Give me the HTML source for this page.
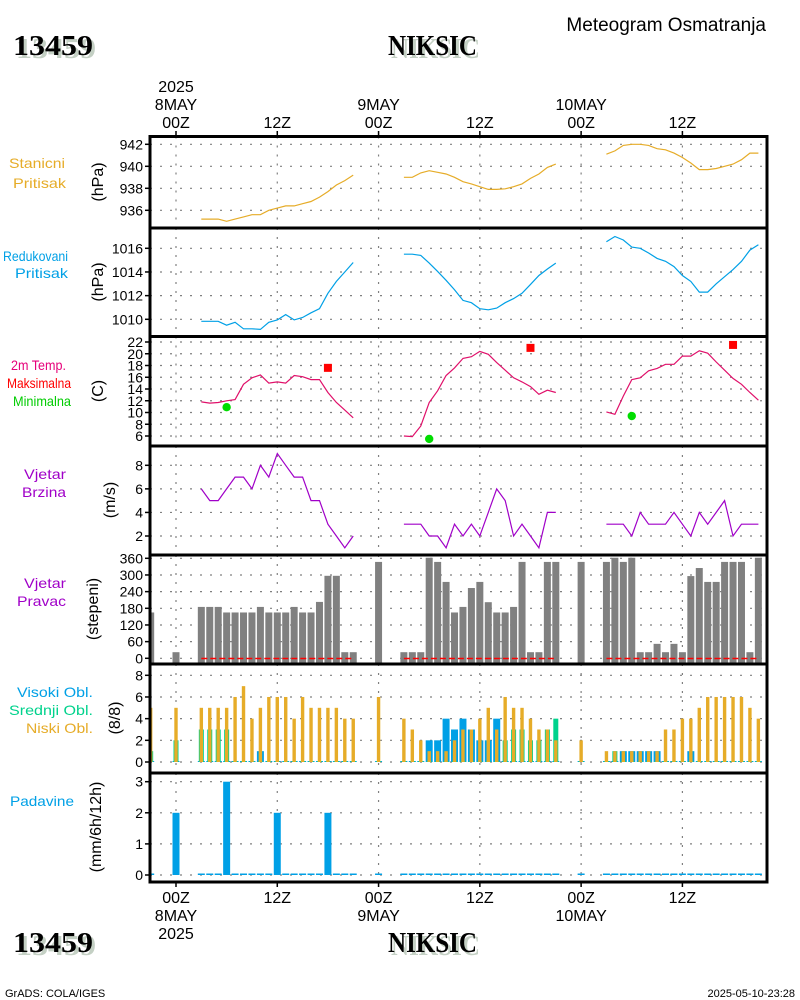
<!DOCTYPE html>
<html><head><meta charset="utf-8"><title>Meteogram NIKSIC</title>
<style>
html,body{margin:0;padding:0;background:#fff;}
svg{display:block;font-family:"Liberation Sans","DejaVu Sans",sans-serif;}
.tk{font-size:14px;fill:#000;}
.ax{font-size:16px;fill:#000;}
.lbl{font-size:14px;}
.hdr{font-family:"Liberation Serif",serif;font-weight:bold;font-size:29px;}
</style></head>
<body>
<svg id="chart" width="800" height="1000" viewBox="0 0 800 1000" xmlns="http://www.w3.org/2000/svg">
  <g>
    <text x="16" y="58" class="hdr" fill="#c4d0c4" textLength="80" lengthAdjust="spacingAndGlyphs">13459</text>
    <text x="13" y="55" class="hdr" fill="#000" textLength="80" lengthAdjust="spacingAndGlyphs">13459</text>
    <text x="391" y="58" class="hdr" fill="#c4d0c4" textLength="89" lengthAdjust="spacingAndGlyphs">NIKSIC</text>
    <text x="388" y="55" class="hdr" fill="#000" textLength="89" lengthAdjust="spacingAndGlyphs">NIKSIC</text>
    <text x="766" y="31" font-size="19" text-anchor="end">Meteogram Osmatranja</text>
  </g>
  <g>
    <text x="16" y="955" class="hdr" fill="#c4d0c4" textLength="80" lengthAdjust="spacingAndGlyphs">13459</text>
    <text x="13" y="952" class="hdr" fill="#000" textLength="80" lengthAdjust="spacingAndGlyphs">13459</text>
    <text x="391" y="955" class="hdr" fill="#c4d0c4" textLength="89" lengthAdjust="spacingAndGlyphs">NIKSIC</text>
    <text x="388" y="952" class="hdr" fill="#000" textLength="89" lengthAdjust="spacingAndGlyphs">NIKSIC</text>
    <text x="5" y="997" font-size="11">GrADS: COLA/IGES</text>
    <text x="795" y="997" font-size="11" text-anchor="end">2025-05-10-23:28</text>
  </g>
  <g>
    <text x="9" y="168" class="lbl" fill="#e6ac28" textLength="56" lengthAdjust="spacingAndGlyphs">Stanicni</text>
    <text x="13" y="188" class="lbl" fill="#e6ac28" textLength="53" lengthAdjust="spacingAndGlyphs">Pritisak</text>
    <text x="3" y="261" class="lbl" fill="#00a0e6" textLength="65" lengthAdjust="spacingAndGlyphs">Redukovani</text>
    <text x="15" y="278" class="lbl" fill="#00a0e6" textLength="53" lengthAdjust="spacingAndGlyphs">Pritisak</text>
    <text x="11" y="370" class="lbl" fill="#e6007a" textLength="55" lengthAdjust="spacingAndGlyphs">2m Temp.</text>
    <text x="7" y="388" class="lbl" fill="#ff0000" textLength="64" lengthAdjust="spacingAndGlyphs">Maksimalna</text>
    <text x="13" y="406" class="lbl" fill="#00cc00" textLength="58" lengthAdjust="spacingAndGlyphs">Minimalna</text>
    <text x="24" y="479" class="lbl" fill="#a000c8" textLength="42" lengthAdjust="spacingAndGlyphs">Vjetar</text>
    <text x="22" y="497" class="lbl" fill="#a000c8" textLength="44" lengthAdjust="spacingAndGlyphs">Brzina</text>
    <text x="24" y="588" class="lbl" fill="#a000c8" textLength="42" lengthAdjust="spacingAndGlyphs">Vjetar</text>
    <text x="17" y="606" class="lbl" fill="#a000c8" textLength="49" lengthAdjust="spacingAndGlyphs">Pravac</text>
    <text x="17" y="697" class="lbl" fill="#00a0e6" textLength="76" lengthAdjust="spacingAndGlyphs">Visoki Obl.</text>
    <text x="9" y="715" class="lbl" fill="#00d28c" textLength="84" lengthAdjust="spacingAndGlyphs">Srednji Obl.</text>
    <text x="26" y="733" class="lbl" fill="#e6ac28" textLength="67" lengthAdjust="spacingAndGlyphs">Niski Obl.</text>
    <text x="10" y="806" class="lbl" fill="#00a0e6" textLength="64" lengthAdjust="spacingAndGlyphs">Padavine</text>
    <text transform="translate(103,182) rotate(-90)" class="ax" text-anchor="middle">(hPa)</text>
    <text transform="translate(103,282) rotate(-90)" class="ax" text-anchor="middle">(hPa)</text>
    <text transform="translate(103,391) rotate(-90)" class="ax" text-anchor="middle">(C)</text>
    <text transform="translate(115,500) rotate(-90)" class="ax" text-anchor="middle">(m/s)</text>
    <text transform="translate(98,609) rotate(-90)" class="ax" text-anchor="middle">(stepeni)</text>
    <text transform="translate(120,718) rotate(-90)" class="ax" text-anchor="middle">(8/8)</text>
    <text transform="translate(101,827) rotate(-90)" class="ax" text-anchor="middle">(mm/6h/12h)</text>
  </g>
  <g id="grid"></g>
  <g id="marks"></g>
  <g id="frames"></g>
  <g id="xaxis"></g>
</svg>
<script>
// ---- data ----
const segStart = [3, 27, 51];
const stnP = [
 [935.2,935.2,935.2,935.0,935.2,935.4,935.6,935.6,936.0,936.2,936.4,936.4,936.6,936.8,937.2,937.7,938.3,938.7,939.2],
 [939.0,939.0,939.4,939.6,939.45,939.3,939.0,938.6,938.4,938.15,937.9,937.9,937.95,938.15,938.4,938.9,939.3,939.9,940.2],
 [941.1,941.4,941.9,942.0,942.0,941.9,941.6,941.5,941.2,940.8,940.3,939.7,939.7,939.8,940.0,940.2,940.6,941.2,941.2]];
const redP = [
 [1009.83,1009.83,1009.83,1009.5,1009.75,1009.2,1009.2,1009.15,1009.75,1009.95,1010.4,1009.95,1010.15,1010.55,1010.9,1012.2,1013.2,1014.0,1014.8],
 [1015.5,1015.5,1015.4,1014.75,1014.05,1013.3,1012.5,1011.6,1011.4,1010.9,1010.8,1010.95,1011.4,1011.75,1012.2,1012.95,1013.7,1014.25,1014.75],
 [1016.55,1017.0,1016.7,1016.1,1016.0,1015.6,1015.15,1014.9,1014.45,1013.7,1013.2,1012.3,1012.3,1013.0,1013.6,1014.2,1014.9,1015.85,1016.3]];
const temp = [
 [11.8,11.6,11.7,12.0,12.2,14.8,15.9,16.4,15.0,15.2,15.0,16.3,16.1,15.6,15.6,13.4,11.7,10.4,9.1],
 [6.0,5.9,7.7,11.7,13.7,16.3,17.6,19.2,19.5,20.4,19.9,18.5,17.2,15.9,15.2,14.4,13.1,13.8,13.4],
 [10.1,9.7,12.8,15.6,15.9,17.1,17.5,18.2,18.2,19.6,19.6,20.5,20.1,18.6,17.2,15.8,14.8,13.4,12.1]];
const maxHours = [18, 42, 66];
const maxT = [17.6, 21.0, 21.5];
const minHours = [6, 30, 54];
const minT = [10.9, 5.5, 9.4];
const windSpd = [
 [6,5,5,6,7,7,6,8,7,9,8,7,7,5,5,3,2,1,2],
 [3,3,3,2,2,1,3,2,3,2,4,6,5,2,3,2,1,4,4],
 [3,3,3,2,4,3,3,3,4,3,2,4,3,4,5,2,3,3,3]];
const obsHours = [-3,0,3,4,5,6,7,8,9,10,11,12,13,14,15,16,17,18,19,20,21,24,
 27,28,29,30,31,32,33,34,35,36,37,38,39,40,41,42,43,44,45,48,
 51,52,53,54,55,56,57,58,59,60,61,62,63,64,65,66,67,68,69];
const windDir = [165,22,185,185,185,165,165,165,165,185,165,165,165,185,165,165,203,297,297,22,22,347,
 22,22,22,362,347,275,165,185,253,275,202,165,165,185,347,22,22,347,347,347,
 347,362,347,362,22,22,52,22,52,22,296,325,275,275,347,347,347,22,362];
const cloudHigh = [0,0,0,0,0,0,0,0,0,1,0,0,0,0,0,0,0,0,0,0,0,0,
 0,0,0,2,2,4,3,4,3,2,2,4,0,0,0,0,0,0,0,0,
 0,0,1,1,1,1,1,0,0,0,1,0,0,0,0,0,0,0,0];
const cloudMid = [1,2,3,3,3,3,0,0,0,0,0,0,0,0,0,0,0,0,0,0,0,0,
 0,0,0,0,0,0,0,0,0,0,0,0,2,3,3,2,2,3,4,0,
 0,1,0,0,0,0,0,0,0,0,0,0,0,0,0,0,0,0,0];
const cloudLow = [5,5,5,5,5,5,6,7,4,5,6,6,6,4,6,5,5,5,5,4,4,6,
 4,3,2,1,1,1,2,3,3,4,5,3,6,5,5,4,3,3,2,2,
 1,1,1,1,1,1,1,3,3,4,4,5,6,6,6,6,6,5,4];
const precip = [0,2,0,0,0,3,0,0,0,0,0,2,0,0,0,0,0,2,0,0,0,0,
 0,0,0,0,0,0,0,0,0,0,0,0,0,0,0,0,0,0,0,0,
 0,0,0,0,0,0,0,0,0,0,0,0,0,0,0,0,0,0,0];
const stnTicks = [936,938,940,942];
const redTicks = [1010,1012,1014,1016];
const tempTicks = [6,8,10,12,14,16,18,20,22];
const spdTicks = [2,4,6,8];
const dirTicks = [0,60,120,180,240,300,360];
const cloudTicks = [0,2,4,6,8];
const precipTicks = [0,1,2,3];
const timeTicks = [0,12,24,36,48,60];
const timeLabelsTop = [["2025","8MAY","00Z"],["","","12Z"],["","9MAY","00Z"],["","","12Z"],["","10MAY","00Z"],["","","12Z"]];
const timeLabelsBot = [["00Z","8MAY","2025"],["12Z","",""],["00Z","9MAY",""],["12Z","",""],["00Z","10MAY",""],["12Z","",""]];

// ---- scales ----
const NS = "http://www.w3.org/2000/svg";
const L = 150, R = 767;
const X = h => 176 + 8.44 * h;
const lin = (v0, y0, v1, y1) => v => y0 + (v - v0) * (y1 - y0) / (v1 - v0);
const yStn = lin(936, 210.3, 942, 144.3);
const yRed = lin(1010, 319.3, 1016, 248.3);
const yTmp = lin(6, 436, 22, 342);
const ySpd = lin(2, 536, 8, 465.3);
const yDir = lin(0, 658.3, 360, 558.3);
const yCld = lin(0, 762, 8, 675.3);
const yPcp = lin(0, 875, 3, 781.7);
const panels = [
  {top:136.5, bot:228, ticks:stnTicks, y:yStn, name:"station-pressure"},
  {top:228, bot:336.5, ticks:redTicks, y:yRed, name:"reduced-pressure"},
  {top:336.5, bot:446, ticks:tempTicks, y:yTmp, name:"temperature"},
  {top:446, bot:555, ticks:spdTicks, y:ySpd, name:"wind-speed"},
  {top:555, bot:664, ticks:dirTicks, y:yDir, name:"wind-direction"},
  {top:664, bot:773, ticks:cloudTicks, y:yCld, name:"clouds"},
  {top:773, bot:882, ticks:precipTicks, y:yPcp, name:"precipitation"}];

function mk(tag, attrs, parent) {
  const e = document.createElementNS(NS, tag);
  for (const k in attrs) e.setAttribute(k, attrs[k]);
  parent.appendChild(e);
  return e;
}
const grid = document.getElementById("grid");
const marks = document.getElementById("marks");
const frames = document.getElementById("frames");
const xaxis = document.getElementById("xaxis");

panels.forEach(p => {
  p.ticks.forEach(t => {
    const y = p.y(t);
    const gl = mk("line", {x1:L, x2:R, y1:y, y2:y, stroke:"#808080", "stroke-width":1.2, "stroke-dasharray":"2,8"}, grid);
    
    
    const tm = mk("line", {x1:145, x2:L, y1:y, y2:y, stroke:"#000", "stroke-width":1.5}, grid);
    
    
    const tx = mk("text", {x:143, y:y + 5, class:"tk", "text-anchor":"end"}, grid);
    tx.textContent = t;
    
    
  });
  timeTicks.forEach(h => {
    const vl = mk("line", {x1:X(h), x2:X(h), y1:p.top, y2:p.bot, stroke:"#808080", "stroke-width":1.2, "stroke-dasharray":"2,7"}, grid);
    
    
  });
});

function drawLine(series, yf, color, name) {
  series.forEach((seg, si) => {
    const pts = seg.map((v, i) => X(segStart[si] + i).toFixed(1) + "," + yf(v).toFixed(1)).join(" ");
    const pl = mk("polyline", {points:pts, fill:"none", stroke:color, "stroke-width":1.2}, marks);
    
    
  });
}
drawLine(stnP, yStn, "#e6ac28", "station-pressure");
drawLine(redP, yRed, "#00a0e6", "reduced-pressure");
drawLine(temp, yTmp, "#e0106a", "temperature");
drawLine(windSpd, ySpd, "#a000c8", "wind-speed");

maxHours.forEach((h, i) => {
  const r = mk("rect", {x:X(h) - 4, y:yTmp(maxT[i]) - 4, width:8, height:8, fill:"#ff0000"}, marks);
  
  
});
minHours.forEach((h, i) => {
  const c = mk("circle", {cx:X(h), cy:yTmp(minT[i]), r:4.2, fill:"#00dd00"}, marks);
  
  
});

obsHours.forEach((h, i) => {
  const x = Math.max(L, X(h) - 3.5);
  const w = X(h) + 3.5 - x;
  const y = Math.max(557, yDir(windDir[i]));
  const b = mk("rect", {x:x, y:y, width:w, height:663 - y, fill:"#808080"}, marks);
  
  
});
segStart.forEach(s => {
  const dl = mk("line", {x1:X(s), x2:X(s + 18), y1:658.5, y2:658.5, stroke:"#ff0000", "stroke-width":1.5, "stroke-dasharray":"6,3"}, marks);
  
  
});

obsHours.forEach((h, i) => {
  const xc = X(h);
  const clipX = (x0, w) => { const a = Math.max(L + 1, x0); return [a, x0 + w - a]; };
  [[cloudHigh[i], 7, "#00a0e6", "high-cloud-bar"], [cloudMid[i], 5, "#00d28c", "mid-cloud-bar"], [cloudLow[i], 3.4, "#e6ac28", "low-cloud-bar"]].forEach(c => {
    const [v, w, col, nm] = c;
    if (v <= 0 && col === "#e6ac28") return;
    const [x0, ww] = clipX(xc - w / 2, w);
    if (ww <= 0) return;
    const y = v > 0 ? yCld(v) : 761;
    const r = mk("rect", {x:x0, y:y, width:ww, height:Math.max(1, 762 - y), fill:col}, marks);
    
    
  });
});

obsHours.forEach((h, i) => {
  const xc = X(h);
  const x0 = Math.max(L + 1, xc - 3.5);
  const w = xc + 3.5 - x0;
  const y = precip[i] > 0 ? yPcp(precip[i]) : 873.5;
  const r = mk("rect", {x:x0, y:y, width:w, height:Math.max(1.5, 875 - y), fill:"#00a0e6"}, marks);
  
  
});

panels.forEach(p => {
  const f = mk("rect", {x:L, y:p.top, width:R - L, height:p.bot - p.top, fill:"none", stroke:"#000", "stroke-width":3}, frames);
  
  
});

timeTicks.forEach((h, i) => {
  const x = X(h);
  const t1 = mk("line", {x1:x, x2:x, y1:131, y2:136, stroke:"#000", "stroke-width":1.5}, xaxis);
  
  
  const t2 = mk("line", {x1:x, x2:x, y1:882, y2:887, stroke:"#000", "stroke-width":1.5}, xaxis);
  
  
  timeLabelsTop[i].forEach((s, j) => {
    if (!s) return;
    const t = mk("text", {x:x, y:92 + j * 18, class:"ax", "text-anchor":"middle"}, xaxis);
    t.textContent = s;
    
    
  });
  timeLabelsBot[i].forEach((s, j) => {
    if (!s) return;
    const t = mk("text", {x:x, y:903 + j * 18, class:"ax", "text-anchor":"middle"}, xaxis);
    t.textContent = s;
    
    
  });
});
</script>
</body></html>
